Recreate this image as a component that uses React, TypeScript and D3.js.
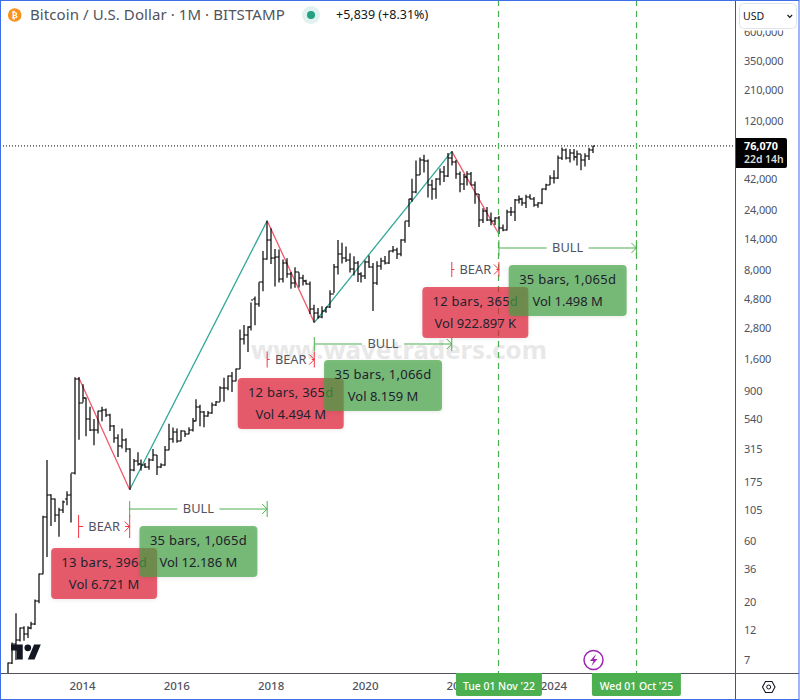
import React, { useEffect, useRef } from "react";
import * as d3 from "d3";

// Monthly OHLC, Jun 2012 to Nov 2024
const opens = [
  5.3, 6.6, 9.3, 10, 12.4, 11.2, 12.5,
  13.5, 20.4, 33.4, 93, 139, 129, 97, 106, 129, 138, 205, 1131,
  732, 800, 550, 450, 445, 627, 640, 586, 480, 388, 338, 375,
  320, 218, 254, 244, 236, 230, 262, 285, 229, 236, 312, 377,
  431, 370, 437, 416, 448, 530, 673, 622, 573, 608, 700, 745,
  965, 965, 1190, 1080, 1350, 2300, 2480, 2870, 4740, 4340, 6450, 9900,
  13800, 10100, 10300, 6920, 9240, 7490, 6390, 7730, 7010, 6610, 6300, 4020,
  3740, 3440, 3820, 4100, 5260, 8540, 10770, 10080, 9590, 8290, 9150, 7540,
  7180, 9340, 8530, 6420, 8620, 9450, 9135, 11340, 11650, 10780, 13780, 19700,
  29000, 33100, 45200, 58800, 57700, 37300, 35040, 41460, 47100, 43820, 61300, 57000,
  46200, 38500, 43200, 45500, 37650, 31800, 19950, 23300, 20050, 19420, 20490, 17160,
  16540, 23120, 23130, 28470, 29230, 27210, 30470, 29230, 25940, 26960, 34660, 37700,
  42270, 42580, 61200, 71300, 60650, 67500, 62700, 65800, 59000, 63300, 70231,
];
const highs = [
  6.7, 9.6, 16.3, 12.6, 12.9, 12.9, 14,
  20.9, 33.5, 95, 260, 140, 130, 110, 125, 148, 204, 1163, 1163,
  1022, 805, 680, 545, 635, 680, 660, 600, 490, 415, 460, 385,
  322, 265, 300, 263, 247, 268, 318, 285, 245, 335, 502, 468,
  460, 445, 440, 470, 555, 780, 705, 630, 630, 735, 755, 985,
  1150, 1200, 1280, 1360, 2760, 2990, 2920, 4480, 5000, 6470, 11400, 19666,
  17180, 11780, 11680, 9760, 10000, 7780, 8500, 7750, 7400, 6780, 6550, 4300,
  4070, 4200, 4130, 5600, 9000, 13880, 13200, 12330, 10950, 10370, 9510, 7750,
  9580, 10500, 9180, 9470, 10070, 10380, 11440, 12480, 12060, 14100, 19480, 29300,
  41950, 58350, 61780, 64900, 59600, 41300, 42500, 50500, 52900, 67000, 69000, 59000,
  47950, 45800, 48200, 47450, 40000, 31950, 24650, 25200, 22780, 20990, 21450, 18380,
  23950, 25250, 29200, 31000, 29830, 31430, 31820, 30200, 27500, 35200, 38400, 44700,
  48950, 64000, 73800, 72700, 71900, 71900, 70000, 65500, 66500, 73600, 76400,
];
const lows = [
  5, 6.5, 7, 9.8, 9.9, 10.4, 12.2,
  13.2, 19.5, 33, 45, 79, 85, 65, 100, 115, 84, 200, 376,
  735, 400, 440, 340, 420, 525, 565, 440, 355, 275, 320, 300,
  152, 212, 235, 215, 225, 218, 255, 198, 225, 235, 310, 355,
  355, 365, 395, 415, 435, 525, 480, 470, 570, 600, 690, 745,
  745, 920, 890, 1080, 1350, 2100, 1830, 2700, 2970, 4160, 5500, 9700,
  9000, 6000, 6450, 6430, 7030, 5750, 5850, 5880, 6100, 6200, 3650, 3122,
  3350, 3380, 3730, 4060, 5320, 7440, 9100, 9350, 7710, 7300, 6510, 6430,
  6850, 8400, 3850, 6150, 8120, 8900, 9000, 11100, 9870, 10370, 13200, 17570,
  27700, 32300, 44960, 47000, 30000, 28800, 29300, 37300, 39600, 43280, 53300, 42000,
  32900, 34300, 37200, 37700, 26700, 17600, 18900, 19600, 18150, 18200, 15480, 16260,
  16500, 21400, 19600, 26900, 25800, 24750, 29000, 25300, 24900, 26550, 34100, 37600,
  38500, 41900, 59000, 59600, 56500, 58400, 53500, 49000, 52500, 58900, 66850,
];
const closes = [
  6.6, 9.3, 10, 12.4, 11.2, 12.5, 13.5,
  20.4, 33.4, 93, 139, 129, 97, 106, 122, 138, 205, 1131, 732,
  800, 550, 450, 445, 627, 640, 586, 480, 388, 338, 375, 320,
  218, 254, 244, 236, 230, 262, 285, 229, 236, 312, 377, 431,
  370, 437, 416, 448, 530, 673, 622, 573, 608, 700, 745, 965,
  965, 1190, 1080, 1350, 2300, 2480, 2870, 4700, 4340, 6450, 9900, 13800,
  10100, 10300, 6920, 9240, 7490, 6390, 7730, 7010, 6610, 6300, 4020, 3740,
  3440, 3820, 4100, 5260, 8540, 10770, 10080, 9590, 8290, 9150, 7540, 7180,
  9340, 8530, 6420, 8620, 9450, 9135, 11340, 11650, 10780, 13780, 19700, 29000,
  33100, 45200, 58800, 57700, 37300, 35040, 41460, 47100, 43820, 61300, 57000, 46200,
  38500, 43200, 45500, 37650, 31800, 19950, 23300, 20050, 19420, 20490, 17160, 16540,
  23120, 23130, 28470, 29230, 27210, 30470, 29230, 25940, 26960, 34660, 37700, 42270,
  42580, 61200, 71300, 60650, 67500, 62700, 65800, 59000, 63300, 70231, 76070,
];

const priceTicks = [600000, 350000, 210000, 120000, 42000, 24000, 14000, 8000, 4800, 2800, 1600, 900, 540, 315, 175, 105, 60, 36, 20, 12, 7];
const yearTicks = [2014, 2016, 2018, 2020, 2022, 2024];

// Swing legs as [year, month] pivots, red falls and green rises
const pivotDates = [[2013, 12], [2015, 1], [2017, 12], [2018, 12], [2021, 11], [2022, 11]];
const pivotPrices = [1163, 152, 19666, 3122, 69000, 15480];

const rangeKinds = ["bear", "bull", "bear", "bull", "bear", "bull"];
const rangeStarts = [[2013, 12], [2015, 1], [2017, 12], [2018, 12], [2021, 11], [2022, 11]];
const rangeEnds = [[2015, 1], [2017, 12], [2018, 12], [2021, 11], [2022, 11], [2025, 10]];
const rangeBars = ["13 bars, 396d", "35 bars, 1,065d", "12 bars, 365d", "35 bars, 1,066d", "12 bars, 365d", "35 bars, 1,065d"];
const rangeVols = ["Vol 6.721 M", "Vol 12.186 M", "Vol 4.494 M", "Vol 8.159 M", "Vol 922.897 K", "Vol 1.498 M"];

const dateLabels = ["Tue 01 Nov '22", "Wed 01 Oct '25"];
const dateLabelMonths = [[2022, 11], [2025, 10]];

const monthIndex = (year: number, month: number) => (year - 2012) * 12 + month - 6;
const FONT = "'Noto Sans', sans-serif";

export default function App() {
  const svgRef = useRef<SVGSVGElement>(null);

  useEffect(() => {
    const width = 800;
    const height = 700;
    const plotRight = 735;
    const plotBottom = 673;

    const x = d3.scaleLinear().domain([0, 160]).range([7.9, 636.4]);
    const y = d3.scaleLog().domain([7, 350000]).range([660, 61.5]);
    const xAt = (d: number[]) => x(monthIndex(d[0], d[1]));

    const svg = d3.select(svgRef.current);
    svg.selectAll("*").remove();
    svg.append("rect").attr("width", width).attr("height", height).attr("fill", "#fff");

    svg.append("clipPath").attr("id", "plot").append("rect").attr("width", plotRight).attr("height", plotBottom);
    const plot = svg.append("g").attr("clip-path", "url(#plot)");

    // Watermark sits behind everything
    plot.append("text").attr("x", 399).attr("y", 359).attr("text-anchor", "middle")
      .attr("font-family", FONT).attr("font-weight", 700).attr("font-size", 25.8)
      .attr("fill", "#e8e8e8").text("www.wavetraders.com");

    // Swing lines
    const legs = d3.pairs(d3.range(pivotDates.length));
    plot.append("g").selectAll("line").data(legs).join("line")
      .attr("x1", d => xAt(pivotDates[d[0]]))
      .attr("y1", d => y(pivotPrices[d[0]]))
      .attr("x2", d => xAt(pivotDates[d[1]]))
      .attr("y2", d => y(pivotPrices[d[1]]))
      .attr("stroke", (d, i) => (i % 2 === 0 ? "#f0586c" : "#2fa898"))
      .attr("stroke-width", 1.3);

    // OHLC bars
    const bars = plot.append("g").attr("stroke", "#000").attr("stroke-width", 1.2)
      .selectAll("g").data(d3.range(opens.length)).join("g");
    bars.append("line")
      .attr("x1", i => Math.round(x(i))).attr("x2", i => Math.round(x(i)))
      .attr("y1", i => y(highs[i])).attr("y2", i => y(lows[i]));
    bars.append("line")
      .attr("x1", i => Math.round(x(i)) - 2).attr("x2", i => Math.round(x(i)))
      .attr("y1", i => Math.round(y(opens[i]))).attr("y2", i => Math.round(y(opens[i])));
    bars.append("line")
      .attr("x1", i => Math.round(x(i))).attr("x2", i => Math.round(x(i)) + 2)
      .attr("y1", i => Math.round(y(closes[i]))).attr("y2", i => Math.round(y(closes[i])));

    // Last price line
    plot.append("line").attr("x1", 0).attr("x2", plotRight)
      .attr("y1", y(76070)).attr("y2", y(76070))
      .attr("stroke", "#000").attr("stroke-dasharray", "1 2");

    // Date lines at the last two range ends
    plot.append("g").selectAll("line").data(dateLabelMonths).join("line")
      .attr("x1", d => Math.floor(xAt(d)) + 0.5).attr("x2", d => Math.floor(xAt(d)) + 0.5)
      .attr("y1", 0).attr("y2", plotBottom)
      .attr("stroke", "#4caf50").attr("stroke-width", 1.2).attr("stroke-dasharray", "6 5");

    // Range tools: row heights for each one
    const rangeRows = [526.5, 509, 359.5, 344, 269.5, 248];
    const tickHalf = [11.5, 8, 8, 7, 7.5, 8];
    const boxTops = [548, 526, 378, 360, 287, 265];
    const colorOf = (k: string) => (k === "bear" ? "#f23645" : "#4caf50");

    rangeKinds.forEach((kind, i) => {
      const x0 = xAt(rangeStarts[i]);
      const x1 = xAt(rangeEnds[i]);
      const cx = (x0 + x1) / 2;
      const row = rangeRows[i];
      const half = tickHalf[i];
      const g = plot.append("g").attr("fill", "none").attr("stroke", colorOf(kind));
      const path = d3.path();
      path.moveTo(x0, row - half); path.lineTo(x0, row + half);
      path.moveTo(x1, row - half); path.lineTo(x1, row + half);
      path.moveTo(x0, row); path.lineTo(cx - 21, row);
      path.moveTo(cx + 21, row); path.lineTo(x1, row);
      path.moveTo(x1 - 5, row - 5); path.lineTo(x1, row); path.lineTo(x1 - 5, row + 5);
      g.append("path").attr("d", path.toString());
      plot.append("text").attr("x", cx).attr("y", row).attr("dy", "0.35em")
        .attr("text-anchor", "middle").attr("font-family", FONT).attr("font-size", 12.8)
        .attr("fill", "#50535e").text(kind.toUpperCase());
    });

    rangeKinds.forEach((kind, i) => {
      const cx = (xAt(rangeStarts[i]) + xAt(rangeEnds[i])) / 2;
      const boxW = kind === "bear" ? 106 : 118;
      const top = boxTops[i];
      plot.append("rect").attr("x", cx - boxW / 2).attr("y", top)
        .attr("width", boxW).attr("height", 51).attr("rx", 4)
        .attr("fill", kind === "bear" ? "#e31c35" : "#45a245").attr("fill-opacity", 0.7)
        .style("filter", "drop-shadow(0 1px 2px rgba(0,0,0,0.12))");
      [rangeBars[i], rangeVols[i]].forEach((t, j) => {
        plot.append("text").attr("x", cx).attr("y", top + 14 + j * 22).attr("dy", "0.35em")
          .attr("text-anchor", "middle").attr("font-family", FONT).attr("font-size", 13)
          .attr("letter-spacing", j === 0 ? 0.25 : 0)
          .attr("fill", "#1e222d").text(t);
      });
    });

    // TradingView mark
    const logo = plot.append("g").attr("transform", "translate(11,644.5) scale(0.84) translate(0,-4)").attr("fill", "#131722");
    logo.append("path").attr("d", "M14 22H7V11H0V4h14v18zM28 22h-8l7.5-18h8L28 22z");
    logo.append("circle").attr("cx", 20).attr("cy", 8).attr("r", 4);

    // Header
    svg.append("circle").attr("cx", 14.7).attr("cy", 15).attr("r", 6.8).attr("fill", "#f7931a");
    svg.append("text").attr("x", 14.7).attr("y", 15).attr("dy", "0.36em").attr("text-anchor", "middle")
      .attr("font-family", "'DejaVu Sans'").attr("font-weight", 700).attr("font-size", 9).attr("fill", "#fff").text("₿");
    svg.append("text").attr("x", 30).attr("y", 15).attr("dy", "0.35em")
      .attr("font-family", FONT).attr("font-size", 15).attr("letter-spacing", 0.08).attr("fill", "#50535e")
      .text("Bitcoin / U.S. Dollar · 1M · BITSTAMP");
    svg.append("circle").attr("cx", 311).attr("cy", 15).attr("r", 9).attr("fill", "#e0f2ef");
    svg.append("circle").attr("cx", 311).attr("cy", 15).attr("r", 4).attr("fill", "#26a17f");
    svg.append("text").attr("x", 336).attr("y", 15).attr("dy", "0.35em")
      .attr("font-family", FONT).attr("font-size", 12.5).attr("fill", "#131722")
      .text("+5,839 (+8.31%)");

    // Axis panels
    svg.append("line").attr("x1", 1).attr("x2", 799).attr("y1", plotBottom + 0.5).attr("y2", plotBottom + 0.5).attr("stroke", "#50535e");
    svg.append("line").attr("x1", plotRight + 0.5).attr("x2", plotRight + 0.5).attr("y1", 1).attr("y2", 699).attr("stroke", "#50535e");

    svg.append("g").selectAll("text").data(priceTicks).join("text")
      .attr("x", 744).attr("y", d => y(d)).attr("dy", "0.35em")
      .attr("font-family", FONT).attr("font-size", 11).attr("letter-spacing", -0.2).attr("fill", "#50535e")
      .text(d => d3.format(",")(d));

    svg.append("g").selectAll("text").data(yearTicks).join("text")
      .attr("x", d => xAt([d, 1])).attr("y", 686).attr("dy", "0.35em").attr("text-anchor", "middle")
      .attr("font-family", FONT).attr("font-size", 11.5).attr("font-weight", 500).attr("fill", "#50535e")
      .text(d => d);

    // USD selector covers the top tick
    svg.append("rect").attr("x", 736).attr("y", 1).attr("width", 62).attr("height", 29.5).attr("fill", "#fff");
    svg.append("rect").attr("x", 739.5).attr("y", 3.5).attr("width", 57).attr("height", 25).attr("rx", 4)
      .attr("fill", "#fff").attr("stroke", "#e0e3eb");
    svg.append("text").attr("x", 743).attr("y", 16).attr("dy", "0.35em")
      .attr("font-family", FONT).attr("font-size", 10.5).attr("fill", "#131722").text("USD");
    svg.append("path").attr("d", "M787.5 15l2.3 2.3 2.3-2.3").attr("fill", "none").attr("stroke", "#131722").attr("stroke-width", 1.2);

    // Last price tag
    svg.append("path").attr("d", "M736 138h49a2 2 0 0 1 2 2v26a2 2 0 0 1-2 2h-49z").attr("fill", "#000");
    svg.append("text").attr("x", 744).attr("y", 146).attr("dy", "0.35em")
      .attr("font-family", FONT).attr("font-weight", 700).attr("font-size", 10.8).attr("fill", "#fff").text("76,070");
    svg.append("text").attr("x", 744).attr("y", 159).attr("dy", "0.35em")
      .attr("font-family", FONT).attr("font-weight", 600).attr("font-size", 10.4).attr("fill", "#dddddd").text("22d 14h");

    // Date tags on the time axis
    dateLabels.forEach((t, i) => {
      const cx = xAt(dateLabelMonths[i]);
      const w = i === 0 ? 86 : 89;
      svg.append("path")
        .attr("d", `M${cx - w / 2} 673h${w}v21a2 2 0 0 1-2 2h-${w - 4}a2 2 0 0 1-2-2z`)
        .attr("fill", "#4caf50");
      svg.append("text").attr("x", cx).attr("y", 686).attr("dy", "0.35em").attr("text-anchor", "middle")
        .attr("font-family", FONT).attr("font-size", 10.4).attr("font-weight", 500).attr("fill", "#fff").text(t);
    });

    // Lightning badge
    svg.append("circle").attr("cx", 593.5).attr("cy", 660).attr("r", 9.5).attr("fill", "#fff")
      .attr("stroke", "#9c27b0").attr("stroke-width", 1.5);
    svg.append("path").attr("d", "M596 654l-6 7h3.5l-2 5 6-7h-3.5z").attr("fill", "#9c27b0");

    // Settings hexagon
    svg.append("path").attr("d", "M762.5 687l3-5.5h6.5l3 5.5-3 5.5h-6.5z").attr("fill", "none").attr("stroke", "#131722").attr("stroke-width", 1.1);
    svg.append("circle").attr("cx", 768.7).attr("cy", 687).attr("r", 2).attr("fill", "none").attr("stroke", "#131722");

    // Blue window outline
    svg.append("rect").attr("x", 0.5).attr("y", 0.5).attr("width", 798.5).attr("height", 699)
      .attr("fill", "none").attr("stroke", "#3f6fe8");
  }, []);

  return <svg ref={svgRef} width={800} height={700} style={{ position: "absolute", left: 0, top: 0 }} />;
}
